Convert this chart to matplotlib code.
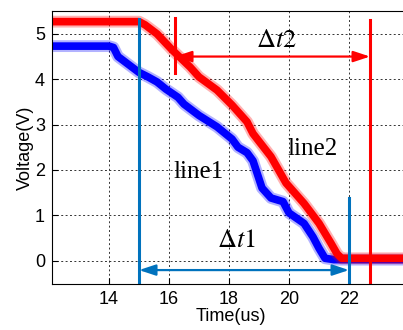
import matplotlib
matplotlib.use("Agg")
import matplotlib.pyplot as plt

# ---- data ----
line2_t = [12.1, 13.0, 14.0, 15.0, 15.2, 15.6, 16.1, 16.7, 17.0, 17.6, 18.1, 18.6,
           18.8, 19.4, 19.9, 20.5, 21.0, 21.4, 21.6, 21.75, 22.5, 23.5, 24.0]
line2_v = [5.27, 5.27, 5.27, 5.27, 5.2, 5.0, 4.65, 4.27, 4.05, 3.76, 3.43, 3.06,
           2.8, 2.29, 1.71, 1.26, 0.82, 0.38, 0.15, 0.05, 0.05, 0.05, 0.05]

line1_t = [12.1, 13.0, 14.0, 14.15, 14.3, 14.6, 15.0, 15.3, 15.6, 15.9, 16.3, 16.5,
           17.0, 17.6, 18.1, 18.3, 18.6, 18.8, 19.1, 19.4, 19.8, 20.0, 20.5, 20.8,
           21.0, 21.2, 21.5, 22.5, 24.0]
line1_v = [4.73, 4.73, 4.73, 4.7, 4.5, 4.35, 4.15, 4.05, 3.94, 3.78, 3.6, 3.45,
           3.2, 2.95, 2.68, 2.5, 2.38, 2.2, 1.6, 1.38, 1.3, 1.05, 0.82, 0.52,
           0.27, 0.05, 0.02, 0.02, 0.02]

x_ticks = [14, 16, 18, 20, 22]
y_ticks = [0, 1, 2, 3, 4, 5]

# markers for the time intervals
dt1_start, dt1_end, dt1_level = 15.0, 22.0, -0.21
dt2_start, dt2_end, dt2_level = 16.2, 22.7, 4.5

plt.rcParams['mathtext.fontset'] = 'stix'

fig = plt.figure(figsize=(4.03, 3.30), dpi=100)
ax = fig.add_axes([0.129, 0.139, 0.886, 0.827])

ax.set_xlim(12.1, 24.0)
ax.set_ylim(-0.52, 5.5)
ax.set_xticks(x_ticks)
ax.set_yticks(y_ticks)
ax.set_axisbelow(True)
ax.grid(True, linestyle=(0, (2, 2.5)), color='#333333', linewidth=0.7)

for s in ax.spines.values():
    s.set_linewidth(0.8)
ax.tick_params(direction='in', length=4, width=0.8, labelsize=13,
               top=False, right=False)
ax.tick_params(axis='x', pad=5)
ax.tick_params(axis='y', pad=5)
for lab in ax.get_xticklabels() + ax.get_yticklabels():
    lab.set_fontfamily('Liberation Sans')

# data lines (thick to mimic noisy band)
ax.plot(line1_t, line1_v, color='#0000FF', lw=8.5, alpha=0.3, solid_capstyle='butt')
ax.plot(line1_t, line1_v, color='#0000FF', lw=5.5, solid_capstyle='butt')
ax.plot(line2_t, line2_v, color='#FF0000', lw=8.5, alpha=0.3, solid_capstyle='butt')
ax.plot(line2_t, line2_v, color='#FF0000', lw=5.5, solid_capstyle='butt')

mblue = '#0072BD'
# Δt1 markers
ax.plot([dt1_start, dt1_start], [-0.52, 5.33], color=mblue, lw=2.2)
ax.plot([dt1_end, dt1_end], [-0.52, 1.37], color=mblue, lw=2.2)
ax.annotate('', xy=(dt1_start, dt1_level), xytext=(dt1_end, dt1_level),
            arrowprops=dict(arrowstyle='<|-|>,head_length=1.0,head_width=0.33',
                            color=mblue, lw=1.6, shrinkA=0, shrinkB=0))
# Δt2 markers
ax.plot([dt2_start, dt2_start], [4.13, 5.34], color='#FF0000', lw=2.2)
ax.plot([dt2_end, dt2_end], [-0.52, 5.3], color='#FF0000', lw=2.2)
ax.annotate('', xy=(dt2_start, dt2_level), xytext=(dt2_end, dt2_level),
            arrowprops=dict(arrowstyle='<|-|>,head_length=1.0,head_width=0.33',
                            color='#FF0000', lw=1.6, shrinkA=0, shrinkB=0))

ax.text(18.23, 0.29, r'$\Delta t1$', fontsize=19, ha='center', va='baseline')
ax.text(19.57, 4.71, r'$\Delta t2$', fontsize=19, ha='center', va='baseline')
ax.text(16.98, 1.82, 'line1', fontsize=18, ha='center', va='baseline',
        fontfamily='Liberation Serif')
ax.text(20.8, 2.32, 'line2', fontsize=18, ha='center', va='baseline',
        fontfamily='Liberation Serif')

ax.set_xlabel('Time(us)', fontsize=13, fontfamily='Liberation Sans', labelpad=0)
ax.set_ylabel('Voltage(V)', fontsize=13, fontfamily='Liberation Sans', labelpad=1)

fig.savefig('out.png', dpi=100)
